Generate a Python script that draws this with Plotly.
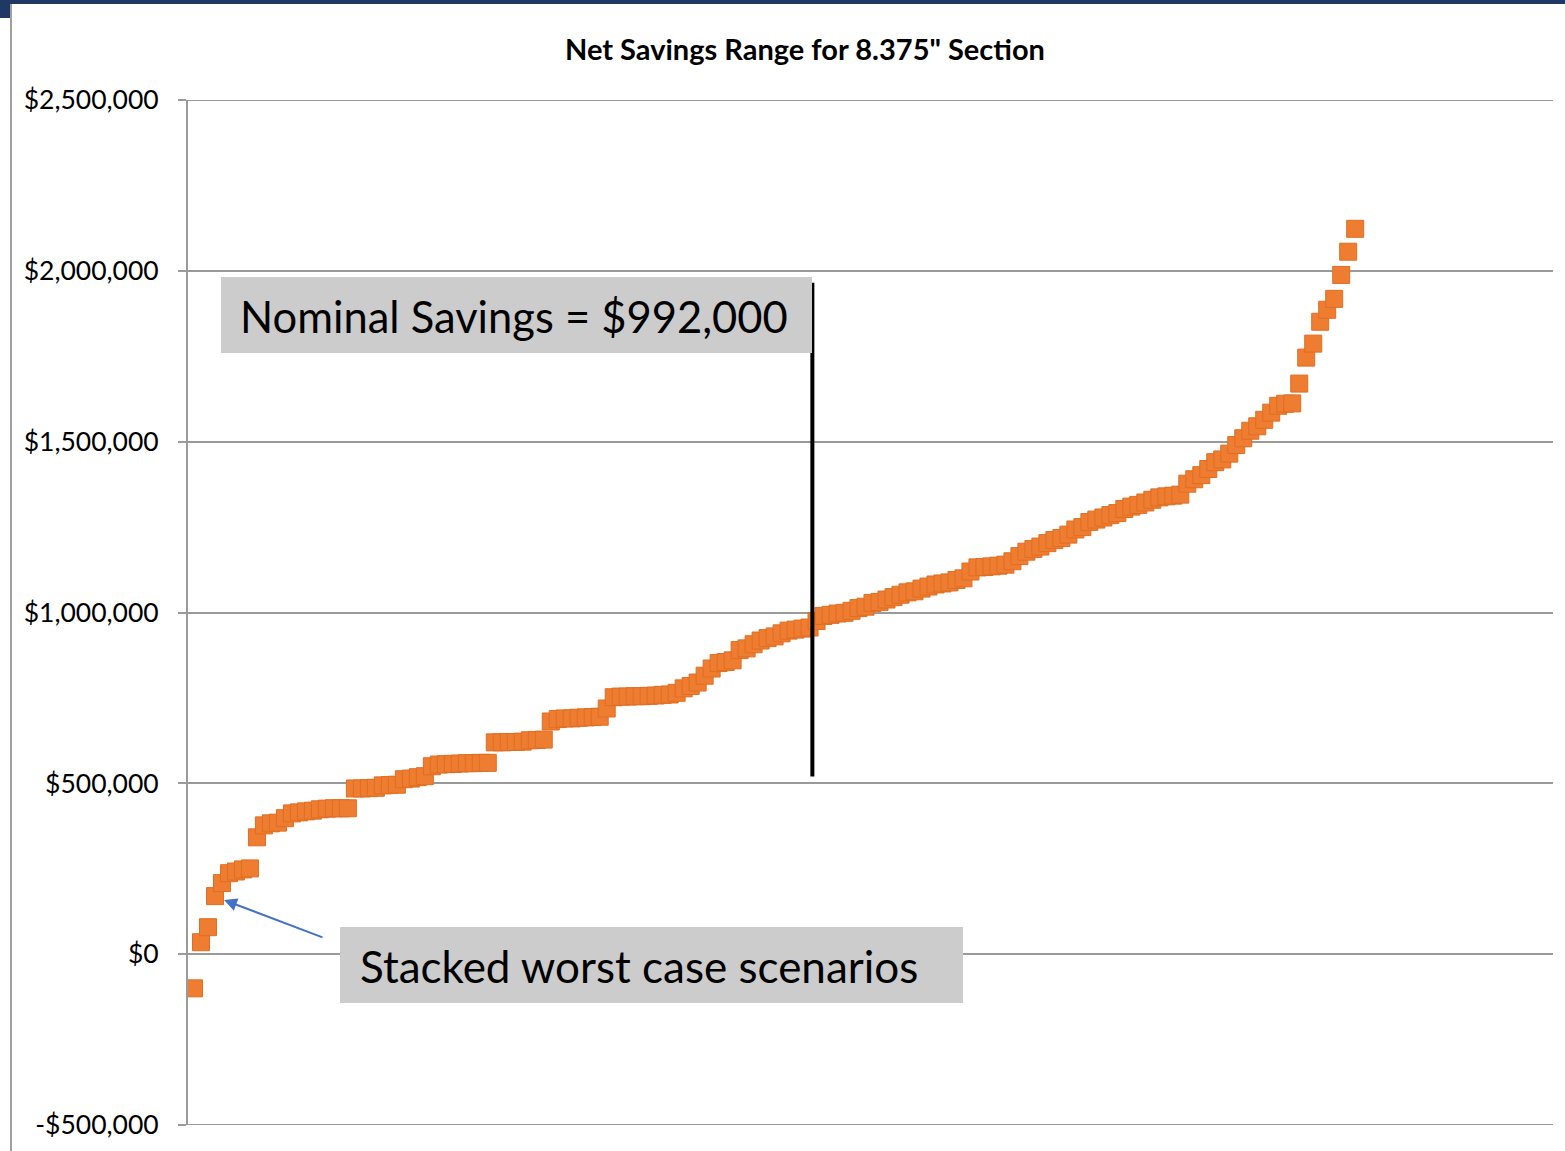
import plotly.graph_objects as go

# ---------------- data ----------------
net_savings_k = [
    -100, 35, 79, 170, 208, 237, 242, 248, 251, 342,
    377, 383, 385, 398, 412, 415, 418, 420, 424, 426,
    427, 427, 427, 485, 485, 486, 487, 494, 495, 496,
    512, 514, 518, 521, 550, 555, 556, 557, 558, 559,
    559, 560, 560, 620, 620, 621, 621, 622, 626, 627,
    628, 681, 688, 690, 690, 692, 693, 694, 695, 719,
    752, 754, 754, 755, 755, 756, 757, 759, 760, 765,
    778, 785, 795, 815, 836, 852, 855, 860, 890, 895,
    907, 918, 925, 930, 939, 947, 950, 953, 956, 975,
    990, 993, 997, 999, 1005, 1013, 1017, 1028, 1031, 1038,
    1045, 1052, 1059, 1062, 1070, 1076, 1082, 1085, 1088, 1095,
    1100, 1120, 1132, 1133, 1135, 1137, 1140, 1150, 1165, 1178,
    1186, 1193, 1203, 1212, 1218, 1228, 1243, 1250, 1265, 1272,
    1278, 1285, 1291, 1303, 1310, 1315, 1322, 1330, 1337, 1340,
    1342, 1345, 1377, 1390, 1402, 1420, 1440, 1448, 1465, 1490,
    1510, 1532, 1545, 1564, 1585, 1605, 1611, 1612, 1670, 1746,
    1787, 1851, 1886, 1918, 1988, 2056, 2123,
]
scenario_index = list(range(len(net_savings_k)))
net_savings = [v * 1000 for v in net_savings_k]

y_tick_values = [-500000, 0, 500000, 1000000, 1500000, 2000000, 2500000]
y_tick_labels = ["-$500,000", "$0", "$500,000", "$1,000,000",
                 "$1,500,000", "$2,000,000", "$2,500,000"]

nominal_index = 88.4
nominal_line_y = [520000, 1965000]

title_text = "Net Savings Range for 8.375\" Section"
nominal_label = "Nominal Savings = $992,000"
worst_label = "Stacked worst case scenarios"

# ---------------- layout geometry ----------------
W, H = 1565, 1151
PL, PR, PT, PB = 188, 1553, 100, 1125
X0, X1 = -0.858, 194.28
Y0, Y1 = -500000, 2500000


def xd(px):
    return X0 + (px - PL) * (X1 - X0) / (PR - PL)


def yd(py):
    return Y1 - (py - PT) * (Y1 - Y0) / (PB - PT)


def xp(px):  # pixel -> paper x
    return (px - PL) / (PR - PL)


def yp(py):  # pixel -> paper y
    return (PB - py) / (PB - PT)


FONT = "Lato"
GRID = "#9a9a9a"
NAVY = "#1F3864"

fig = go.Figure()

fig.add_trace(go.Scatter(
    x=scenario_index, y=net_savings, mode="markers",
    marker=dict(symbol="square", size=17, color="#EE7D31",
                line=dict(color="#E06E22", width=1)),
    hoverinfo="y", showlegend=False,
))

fig.add_trace(go.Scatter(
    x=[nominal_index, nominal_index], y=nominal_line_y, mode="lines",
    line=dict(color="black", width=4), hoverinfo="skip", showlegend=False,
))

shapes = [
    # gridlines at the axis range edges (plotly omits them)
    dict(type="line", xref="paper", yref="y", x0=xp(180), x1=1,
         y0=Y1, y1=Y1, line=dict(color=GRID, width=2), layer="below"),
    dict(type="line", xref="paper", yref="y", x0=xp(180), x1=1,
         y0=Y0, y1=Y0, line=dict(color=GRID, width=2), layer="below"),
    # grey label boxes
    dict(type="rect", xref="x", yref="y", x0=xd(221), x1=xd(812),
         y0=yd(353), y1=yd(277), fillcolor="#CCCCCC", line=dict(width=0),
         layer="above"),
    dict(type="rect", xref="x", yref="y", x0=xd(340), x1=xd(963),
         y0=yd(1003), y1=yd(927), fillcolor="#CCCCCC", line=dict(width=0),
         layer="above"),
    # window frame pieces
    dict(type="rect", xref="paper", yref="paper", x0=xp(0), x1=xp(W),
         y0=yp(4), y1=yp(0), fillcolor=NAVY, line=dict(width=0)),
    dict(type="rect", xref="paper", yref="paper", x0=xp(0), x1=xp(10),
         y0=yp(18), y1=yp(0), fillcolor=NAVY, line=dict(width=0)),
    dict(type="line", xref="paper", yref="paper", x0=xp(11), x1=xp(11),
         y0=yp(H), y1=yp(4), line=dict(color="#a0a0a0", width=2)),
]

annotations = [
    dict(text=nominal_label, xref="x", yref="y", x=xd(238), y=yd(316),
         xanchor="left", yanchor="middle", showarrow=False,
         font=dict(family=FONT, size=43.5, color="black")),
    dict(text=worst_label, xref="x", yref="y", x=xd(358), y=yd(966),
         xanchor="left", yanchor="middle", showarrow=False,
         font=dict(family=FONT, size=44, color="black")),
    dict(text="", xref="x", yref="y", x=xd(224), y=yd(900),
         axref="x", ayref="y", ax=xd(324), ay=yd(938), showarrow=True,
         arrowhead=2, arrowsize=1.3, arrowwidth=2, arrowcolor="#4472C4"),
    dict(text="<b>" + title_text + "</b>", xref="paper", yref="paper",
         x=xp(805), y=yp(49), xanchor="center", yanchor="middle",
         showarrow=False, font=dict(family=FONT, size=29, color="black")),
]

fig.update_layout(
    width=W, height=H,
    margin=dict(l=PL, r=W - PR, t=PT, b=H - PB, pad=0),
    paper_bgcolor="white", plot_bgcolor="white",
    shapes=shapes, annotations=annotations,
    xaxis=dict(range=[X0, X1], showgrid=False, zeroline=False,
               showticklabels=False, ticks="", showline=False),
    yaxis=dict(range=[Y0, Y1], tickvals=y_tick_values, ticktext=y_tick_labels,
               showgrid=True, gridcolor=GRID, gridwidth=2, zeroline=False,
               showline=True, linecolor=GRID, linewidth=2,
               ticks="outside", ticklen=8, tickcolor=GRID, tickwidth=2,
               ticklabelstandoff=14,
               tickfont=dict(family=FONT, size=26.5, color="black")),
)

fig.write_html(
    "out.html",
    config={"displayModeBar": False},
    post_script="document.body.style.margin='0';document.body.style.overflow='hidden';",
)
